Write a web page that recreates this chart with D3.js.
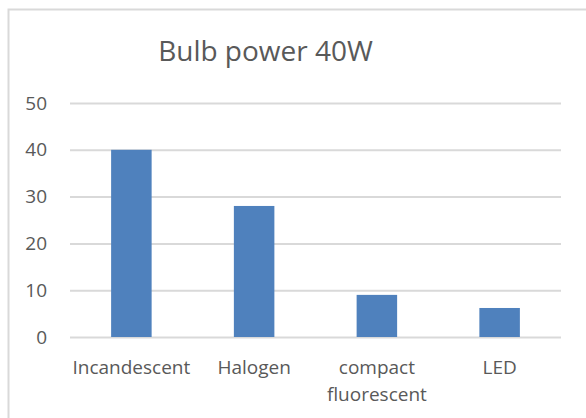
<!DOCTYPE html>
<html>
<head>
<meta charset="utf-8">
<script src="https://cdn.jsdelivr.net/npm/d3@7"></script>
<style>
  html, body { margin: 0; padding: 0; background: #fff; }
  svg { display: block; }
</style>
</head>
<body>
<div id="chart"></div>
<script>
const title = 'Bulb power 40W';
const categories = ['Incandescent', 'Halogen', 'compact\nfluorescent', 'LED'];
const values = [40, 28, 9, 6.2];
const yTicks = [0, 10, 20, 30, 40, 50];

const width = 586, height = 418;
const margin = { top: 103, right: 25, bottom: 81, left: 70 };
const font = '"Open Sans", "Noto Sans", sans-serif';
const textColor = '#595959';
const gridColor = '#d9d9d9';
const barColor = '#4f81bd';

const svg = d3.select('#chart').append('svg')
  .attr('width', width)
  .attr('height', height);

// chart border (right/bottom fall outside the window)
svg.append('rect')
  .attr('x', 8.5).attr('y', 9.5)
  .attr('width', 600).attr('height', 430)
  .attr('fill', '#fff')
  .attr('stroke', gridColor)
  .attr('stroke-width', 2);

const x = d3.scaleBand(categories, [margin.left, width - margin.right])
  .paddingInner(0.67).paddingOuter(0.335);
const y = d3.scaleLinear([0, 50], [height - margin.bottom, margin.top]);

// title
svg.append('text')
  .attr('x', 265.5).attr('y', 61)
  .attr('text-anchor', 'middle')
  .attr('font-family', font)
  .attr('font-size', 28)
  .attr('fill', textColor)
  .text(title);

// y axis with gridlines
const yAxis = d3.axisLeft(y).tickValues(yTicks).tickSize(0).tickPadding(23);
svg.append('g')
  .attr('transform', `translate(${margin.left}, 0)`)
  .call(yAxis)
  .call(g => g.select('.domain').remove())
  .call(g => g.selectAll('.tick line').clone()
    .attr('x2', width - margin.left - margin.right)
    .attr('stroke', gridColor)
    .attr('stroke-width', 2))
  .call(g => g.selectAll('.tick text')
    .attr('font-family', font)
    .attr('font-size', 19)
    .attr('fill', textColor));

// bars
svg.append('g')
  .selectAll('rect')
  .data(values)
  .join('rect')
    .attr('x', (d, i) => x(categories[i]))
    .attr('y', d => y(d))
    .attr('width', x.bandwidth())
    .attr('height', d => y(0) - y(d))
    .attr('fill', barColor);

// x axis labels
const xAxis = d3.axisBottom(x).tickSize(0).tickPadding(0);
svg.append('g')
  .attr('transform', `translate(0, ${y(0)})`)
  .call(xAxis)
  .call(g => g.select('.domain').remove())
  .call(g => g.selectAll('.tick text').each(function(d) {
    const t = d3.select(this).text('')
      .attr('font-family', font)
      .attr('font-size', 19)
      .attr('fill', textColor)
      .attr('dy', null)
      .attr('y', 0);
    d.split('\n').forEach((line, i) => {
      t.append('tspan')
        .attr('x', 0)
        .attr('y', 37 + i * 27)
        .text(line);
    });
  }));
</script>
</body>
</html>
